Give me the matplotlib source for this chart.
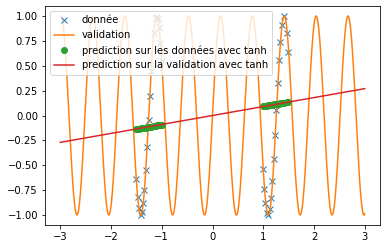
import numpy as np
import matplotlib
matplotlib.use("Agg")
import matplotlib.pyplot as plt

# training points
data_x = [-1.10, -1.12, -1.075, -1.05, -1.16, -1.025, -1.00, -1.21, -1.24, -1.26,
          -1.29, -1.315, -1.50, -1.34, -1.475, -1.365, -1.45, -1.39, -1.415,
          1.41, 1.37, 1.47, 1.33, 1.49, 1.31, 1.30, 1.26, 1.23, 1.21,
          1.00, 1.17, 1.02, 1.15, 1.04, 1.13, 1.10, 1.08]
data_y = [0.99, 0.98, 0.97, 0.89, 0.83, 0.73, 0.55, 0.45, 0.20, -0.05,
          -0.32, -0.55, -0.64, -0.75, -0.82, -0.88, -0.93, -0.97, -1.00,
          1.00, 0.91, 0.83, 0.74, 0.64, 0.56, 0.33, 0.06, -0.20, -0.44,
          -0.54, -0.66, -0.74, -0.83, -0.88, -0.94, -1.00, -0.98]

# predictions of the tanh net on the training points
pred_data_y = [-0.100, -0.102, -0.098, -0.096, -0.106, -0.094, -0.092, -0.111, -0.114, -0.116,
               -0.119, -0.121, -0.138, -0.123, -0.136, -0.125, -0.133, -0.128, -0.130,
               0.130, 0.126, 0.136, 0.122, 0.138, 0.120, 0.119, 0.116, 0.113, 0.111,
               0.092, 0.107, 0.094, 0.106, 0.096, 0.104, 0.101, 0.099]

# validation curve: sinusoid, 10 rad per unit, amplitude 1 (read from the peaks)
val_freq = 10.0
val_amp = 1.0
val_x = np.linspace(-3, 3, 1000)
val_y = val_amp * np.sin(val_freq * val_x)

# prediction on validation (straight line from -3 to 3)
pred_val_x = [-3.0, -1.5, 0.0, 1.5, 3.0]
pred_val_y = [-0.27, -0.135, 0.0, 0.135, 0.27]

fig = plt.figure(figsize=(386 / 72, 248 / 72), dpi=72)
ax = fig.add_subplot(111)
fig.subplots_adjust(left=45 / 386, right=380 / 386, top=1 - 6 / 248, bottom=1 - 225 / 248)

ax.plot(data_x, data_y, 'x', label='donnée')
ax.plot(val_x, val_y, label='validation')
ax.plot(data_x, pred_data_y, 'o', label='prediction sur les données avec tanh')
ax.plot(pred_val_x, pred_val_y, label='prediction sur la validation avec tanh')
ax.legend(loc='upper left')

fig.savefig('out.png', dpi=72)
